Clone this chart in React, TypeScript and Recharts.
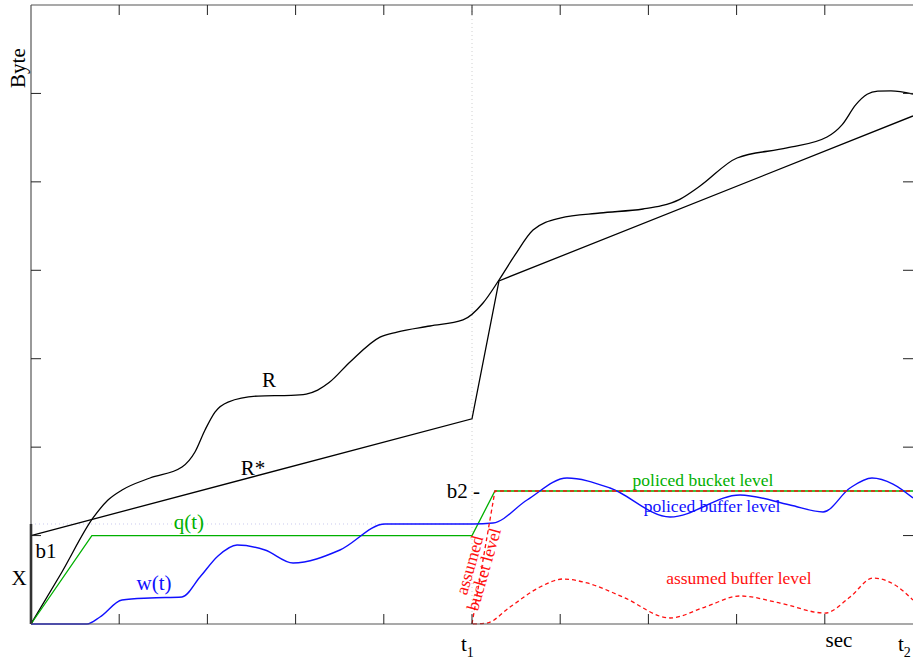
import { LineChart, Line, XAxis, YAxis, ReferenceLine, ReferenceDot } from 'recharts';

const FONT = '"Liberation Serif", "Times New Roman", serif';

// time runs 0..10 (t1 = 5, t2 = 10), bytes run 0..7
const xTicks = [0, 1, 2, 3, 4, 5, 6, 7, 8, 9, 10];
const yTicks = [0, 1, 2, 3, 4, 5, 6, 7];
const xTickLabels: Record<number, [string, string]> = { 5: ['t', '1'], 10: ['t', '2'] };

const t1 = 5;
const wPlateau = 1.131; // level w(t) holds just before t1
const b1Level = 1.0;

// cumulative arrival curve R
const rCurve: [number, number][] = [
  [0, 0], [0.351, 0.588], [0.703, 1.199], [0.873, 1.402], [1.032, 1.515], [1.349, 1.651],
  [1.712, 1.775], [1.859, 1.945], [1.973, 2.194], [2.086, 2.397], [2.234, 2.51], [2.574, 2.578],
  [2.95, 2.585], [3.12, 2.6], [3.25, 2.645], [3.38, 2.73], [3.617, 2.963], [3.957, 3.245],
  [4.15, 3.302], [4.524, 3.37], [4.898, 3.438], [5.125, 3.63], [5.306, 3.89], [5.488, 4.173],
  [5.692, 4.455], [5.998, 4.591], [6.451, 4.648], [6.939, 4.693], [7.15, 4.73], [7.35, 4.8],
  [7.585, 4.953], [8.005, 5.27], [8.571, 5.383], [9.025, 5.507], [9.2, 5.65], [9.35, 5.87],
  [9.48, 5.99], [9.6, 6.025], [9.75, 6.03], [10, 5.993],
];

// service curve R*
const rStar: [number, number][] = [[0, b1Level], [5.0, 2.32], [5.306, 3.88], [10, 5.745]];

// bucket q(t), then policed bucket level after t1
const qCurve: [number, number][] = [[0, 0], [0.69, 1.0], [5.0, 1.0], [5.26, 1.504], [10, 1.504]];

// buffer w(t), then policed buffer level after t1
const wCurve: [number, number][] = [
  [0, 0], [0.635, 0], [0.782, 0.079], [1.032, 0.271], [1.349, 0.294], [1.712, 0.305],
  [1.916, 0.531], [2.12, 0.769], [2.336, 0.893], [2.653, 0.837], [2.971, 0.69], [3.503, 0.837],
  [4.014, 1.131], [5.011, 1.131], [5.238, 1.142], [5.624, 1.402], [6.077, 1.651], [6.565, 1.538],
  [7.245, 1.21], [8.039, 1.459], [8.605, 1.346], [8.98, 1.267], [9.286, 1.538], [9.535, 1.651],
  [9.773, 1.583], [10, 1.425],
];

const bucketAssumed: [number, number][] = [[5.0, 0], [5.26, 1.504], [10, 1.504]];

const bufferAssumed: [number, number][] = [
  [5.011, 0], [5.17, 0.011], [5.431, 0.192], [5.771, 0.418], [6.032, 0.509], [6.304, 0.464],
  [6.712, 0.305], [7.245, 0.068], [7.642, 0.192], [8.039, 0.317], [8.492, 0.237], [9.002, 0.124],
  [9.286, 0.305], [9.546, 0.52], [9.796, 0.441], [10, 0.271],
];

const toPts = (pts: [number, number][]) => pts.map(([x, y]) => ({ x, y }));

const W = 913;
const H = 662;
const Y_AXIS_W = 31;
const X_AXIS_H = 38;
const M = { top: 5, right: 0, bottom: 0, left: 0 };
const PLOT_W = W - Y_AXIS_W - M.right;
const PLOT_H = H - M.top - X_AXIS_H;

const BLACK = '#000';
const GREEN = '#00b000';
const BLUE = '#1010ff';
const RED = '#ff1010';
const FRAME = '#555';

type Note = {
  lines: string[];
  x: number;
  y: number;
  color: string;
  size: number;
  angle?: number;
  anchor?: 'start' | 'middle' | 'end';
};

const notes: Note[] = [
  { lines: ['Byte'], x: -0.068, y: 6.287, color: BLACK, size: 21, angle: -90 },
  { lines: ['R'], x: 2.698, y: 2.68, color: BLACK, size: 21 },
  { lines: ['R*'], x: 2.517, y: 1.685, color: BLACK, size: 21 },
  { lines: ['q(t)'], x: 1.791, y: 1.074, color: GREEN, size: 21 },
  { lines: ['w(t)'], x: 1.395, y: 0.385, color: BLUE, size: 21 },
  { lines: ['b1'], x: 0.17, y: 0.746, color: BLACK, size: 21 },
  { lines: ['X'], x: -0.136, y: 0.441, color: BLACK, size: 21 },
  { lines: ['b2 -'], x: 5.09, y: 1.425, color: BLACK, size: 21, anchor: 'end' },
  { lines: ['policed bucket level'], x: 7.619, y: 1.561, color: GREEN, size: 17.5 },
  { lines: ['policed buffer level'], x: 7.721, y: 1.267, color: BLUE, size: 17.5 },
  { lines: ['assumed buffer level'], x: 8.027, y: 0.452, color: RED, size: 17.5 },
  { lines: ['assumed', 'bucket level'], x: 5.06, y: 0.64, color: RED, size: 17.5, angle: -74 },
  { lines: ['sec'], x: 9.16, y: -0.26, color: BLACK, size: 21 },
];

function noteLabel(n: Note) {
  return (p: any) => {
    const vb = p.viewBox || {};
    const cx = (vb.x ?? vb.cx ?? 0) + (vb.width ?? 0) / 2;
    const cy = (vb.y ?? vb.cy ?? 0) + (vb.height ?? 0) / 2;
    const lh = n.size * 0.85;
    const first = -((n.lines.length - 1) * lh) / 2;
    const shift = n.angle && n.angle !== -90 ? n.size * 0.3 : 0;
    return (
      <text
        x={cx}
        y={cy}
        fill={n.color}
        fontSize={n.size}
        fontFamily={FONT}
        textAnchor={n.anchor ?? 'middle'}
        transform={n.angle ? `rotate(${n.angle} ${cx} ${cy})` : undefined}
      >
        {n.lines.map((s, i) => (
          <tspan key={i} x={cx} y={cy + first + i * lh + shift}>
            {s}
          </tspan>
        ))}
      </text>
    );
  };
}

// ticks point inward, mirrored on the top border
const XTick = (p: any) => {
  const { x, y, payload } = p;
  const v = payload.value;
  const lab = xTickLabels[v];
  const inner = v > 0 && v < 10;
  // the last label sits against the right edge
  const dx = v === 10 ? -15 : -11;
  return (
    <g>
      {inner && <line x1={x} y1={y} x2={x} y2={y - 10} stroke="#222" />}
      {inner && <line x1={x} y1={y - PLOT_H} x2={x} y2={y - PLOT_H + 10} stroke="#222" />}
      {lab && (
        <text x={x + dx} y={y + 27} fontSize={21} fontFamily={FONT} fill={BLACK}>
          {lab[0]}
          <tspan fontSize={14} dy={6}>{lab[1]}</tspan>
        </text>
      )}
    </g>
  );
};

// ticks point inward, mirrored on the right border
const YTick = (p: any) => {
  const { x, y, payload } = p;
  const v = payload.value;
  if (v <= 0 || v >= 7) return <g />;
  return (
    <g>
      <line x1={x} y1={y} x2={x + 10} y2={y} stroke="#222" />
      <line x1={x + PLOT_W - 10} y1={y} x2={x + PLOT_W} y2={y} stroke="#222" />
    </g>
  );
};

export default function App() {
  return (
    <div style={{ position: 'absolute', left: 0, top: 0, width: W, height: H, background: '#fff' }}>
      <LineChart width={W} height={H} margin={M}>
        <XAxis
          type="number"
          dataKey="x"
          domain={[0, 10]}
          ticks={xTicks}
          interval={0}
          height={X_AXIS_H}
          tickSize={0}
          tickMargin={0}
          tickLine={false}
          tick={XTick}
          axisLine={{ stroke: FRAME, strokeWidth: 1.2 }}
        />
        <YAxis
          type="number"
          dataKey="y"
          domain={[0, 7]}
          ticks={yTicks}
          interval={0}
          width={Y_AXIS_W}
          tickSize={0}
          tickMargin={0}
          tickLine={false}
          tick={YTick}
          axisLine={{ stroke: FRAME, strokeWidth: 1.2 }}
        />
        <ReferenceLine y={7} stroke={FRAME} strokeWidth={1.2} />
        <ReferenceLine x={t1} stroke="#d0d0d0" strokeDasharray="1 3" />
        <ReferenceLine
          segment={[{ x: 0, y: wPlateau }, { x: t1, y: wPlateau }]}
          stroke="#c8c8ee"
          strokeDasharray="1 3"
        />

        <Line data={toPts(rStar)} dataKey="y" type="linear" stroke={BLACK} strokeWidth={1.3} dot={false} activeDot={false} isAnimationActive={false} />
        <Line data={toPts(rCurve)} dataKey="y" type="monotone" stroke={BLACK} strokeWidth={1.3} dot={false} activeDot={false} isAnimationActive={false} />
        <Line data={toPts(qCurve)} dataKey="y" type="linear" stroke={GREEN} strokeWidth={1.3} dot={false} activeDot={false} isAnimationActive={false} />
        <Line data={toPts(wCurve)} dataKey="y" type="monotone" stroke={BLUE} strokeWidth={1.4} dot={false} activeDot={false} isAnimationActive={false} />
        <Line data={toPts(bucketAssumed)} dataKey="y" type="linear" stroke={RED} strokeWidth={1.3} strokeDasharray="4 3" dot={false} activeDot={false} isAnimationActive={false} />
        <Line data={toPts(bufferAssumed)} dataKey="y" type="monotone" stroke={RED} strokeWidth={1.3} strokeDasharray="4 3" dot={false} activeDot={false} isAnimationActive={false} />

        {/* heavy mark for X on the byte axis */}
        <ReferenceLine
          segment={[{ x: 0, y: 0 }, { x: 0, y: wPlateau }]}
          stroke={BLACK}
          strokeWidth={2.5}
        />

        {notes.map((n, i) => (
          <ReferenceDot
            key={i}
            x={n.x}
            y={n.y}
            r={0}
            fill="none"
            stroke="none"
            ifOverflow="visible"
            label={noteLabel(n)}
          />
        ))}
      </LineChart>
    </div>
  );
}
